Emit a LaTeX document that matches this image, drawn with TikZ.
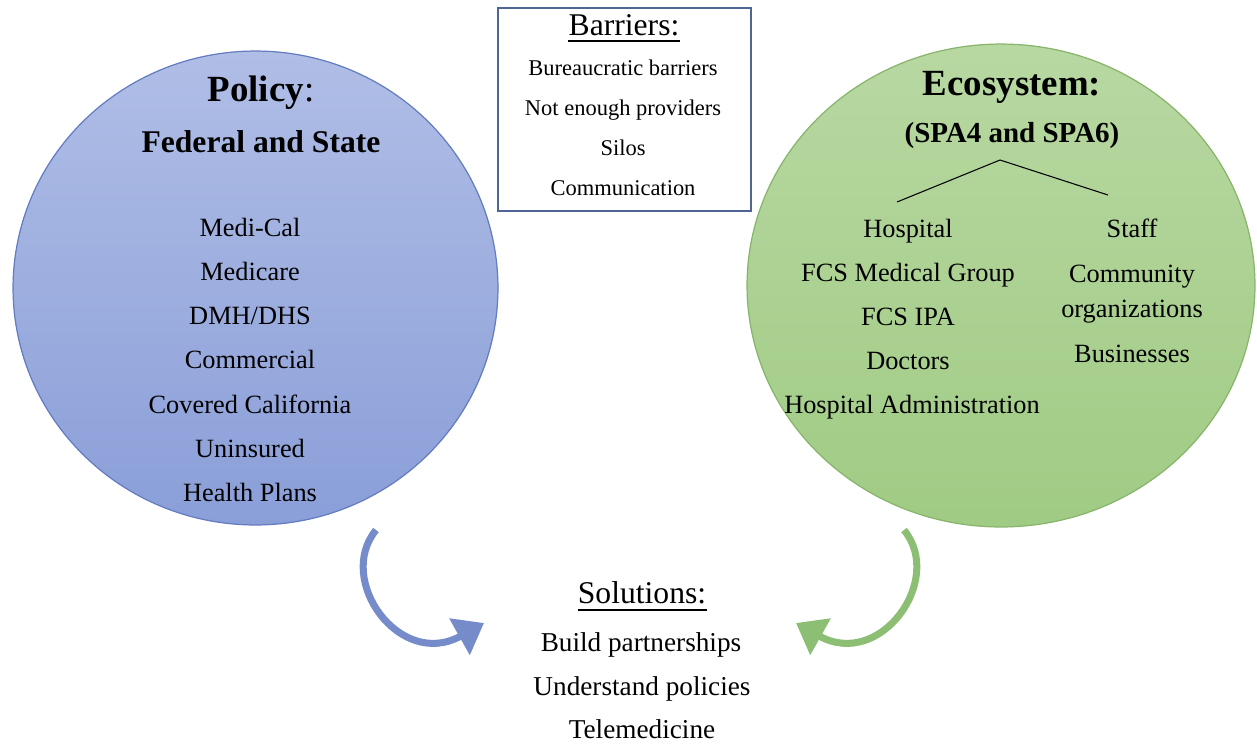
\documentclass[tikz,border=0pt]{standalone}
\usepackage{fontspec}
\setmainfont{Liberation Serif}
\usetikzlibrary{arrows.meta,shapes.geometric}

\definecolor{policyTop}{RGB}{176,190,230}
\definecolor{policyBot}{RGB}{138,158,216}
\definecolor{policyEdge}{RGB}{100,124,194}
\definecolor{ecoTop}{RGB}{184,216,162}
\definecolor{ecoBot}{RGB}{160,203,132}
\definecolor{ecoEdge}{RGB}{136,180,108}
\definecolor{boxEdge}{RGB}{78,102,150}
\definecolor{arrowBlue}{RGB}{118,140,202}
\definecolor{arrowGreen}{RGB}{140,190,116}

\begin{document}
\begin{tikzpicture}[
  x=0.02cm, y=-0.02cm,
  bubble/.style={ellipse, draw, line width=0.7pt, inner sep=0pt},
  item/.style={font=\fontsize{15}{18}\selectfont, anchor=base, inner sep=0pt},
  head/.style={font=\fontsize{21}{24}\selectfont, anchor=base, inner sep=0pt},
  subhead/.style={font=\fontsize{18}{21}\selectfont\bfseries, anchor=base, inner sep=0pt},
  boxtitle/.style={font=\fontsize{18}{21}\selectfont, anchor=base, inner sep=0pt},
  boxitem/.style={font=\fontsize{12.8}{15}\selectfont, anchor=base, inner sep=0pt},
  underbar/.style={line width=0.8pt},
  curl/.style={line width=4pt, -{Triangle[length=16pt, width=23pt]}}
]
\useasboundingbox (0,0) rectangle (1257,745);

% policy circle
\node[bubble, draw=policyEdge, top color=policyTop, bottom color=policyBot,
      minimum width=9.7cm, minimum height=9.48cm] (policy) at (255.5,288) {};
\node[head] (policytitle) at (261,101) {\textbf{Policy}:};
\node[subhead] (fedstate) at (261,152) {Federal and State};
\node[item] (medical) at (250,236) {Medi-Cal};
\node[item] (medicare) at (250,280) {Medicare};
\node[item] (dmh) at (250,324) {DMH/DHS};
\node[item] (commercial) at (250,368) {Commercial};
\node[item] (covered) at (250,413) {Covered California};
\node[item] (uninsured) at (250,457) {Uninsured};
\node[item] (plans) at (250,501) {Health Plans};

% ecosystem circle
\node[bubble, draw=ecoEdge, top color=ecoTop, bottom color=ecoBot,
      minimum width=10.16cm, minimum height=9.66cm] (eco) at (1001,285.5) {};
\node[head, font=\fontsize{21}{24}\selectfont\bfseries] (ecotitle) at (1012,95) {Ecosystem:};
\node[subhead, font=\fontsize{16.5}{20}\selectfont\bfseries] (spa) at (1012,142) {(SPA4 and SPA6)};
\coordinate (forkl) at (897,202);
\coordinate (fork) at (1000,160);
\coordinate (forkr) at (1108,195);
\draw[line width=0.6pt] (forkl) -- (fork) -- (forkr);
\node[item] (hospital) at (908,237) {Hospital};
\node[item] (fcsmg) at (908,281) {FCS Medical Group};
\node[item] (fcsipa) at (908,325) {FCS IPA};
\node[item] (doctors) at (908,369) {Doctors};
\node[item] (admin) at (912,413) {Hospital Administration};
\node[item] (staff) at (1132,237) {Staff};
\node[item] (community) at (1132,282) {Community};
\node[item] (orgs) at (1132,317) {organizations};
\node[item] (business) at (1132,362) {Businesses};

% barriers box
\node[draw=boxEdge, line width=0.7pt, minimum width=5.06cm, minimum height=4.06cm]
  (barrierbox) at (624.5,109.5) {};
\node[boxtitle] (barriers) at (624,35) {Barriers:};
\draw[underbar] ([yshift=-3.4pt]barriers.base west) -- ([yshift=-3.4pt]barriers.base east);
\node[boxitem] (bureau) at (623,75) {Bureaucratic barriers};
\node[boxitem] (providers) at (623,115) {Not enough providers};
\node[boxitem] (silos) at (623,155) {Silos};
\node[boxitem] (communication) at (623,195) {Communication};

% solutions
\node[boxtitle] (solutions) at (642,603) {Solutions:};
\draw[underbar] ([yshift=-4pt]solutions.base west) -- ([yshift=-4pt]solutions.base east);
\node[item, font=\fontsize{15.5}{18}\selectfont] (partner) at (641,651) {Build partnerships};
\node[item, font=\fontsize{15.5}{18}\selectfont] (understand) at (642,695) {Understand policies};
\node[item, font=\fontsize{15.5}{18}\selectfont] (tele) at (642,738) {Telemedicine};

% curved arrows
\coordinate (bluestart) at (376,530);
\coordinate (blueend) at (484,623);
\coordinate (greenstart) at (904,530);
\coordinate (greenend) at (796,623);
\draw[curl, arrowBlue] (bluestart) .. controls (335,580) and (400,670) .. (blueend);
\draw[curl, arrowGreen] (greenstart) .. controls (945,580) and (880,670) .. (greenend);
\end{tikzpicture}
\end{document}
